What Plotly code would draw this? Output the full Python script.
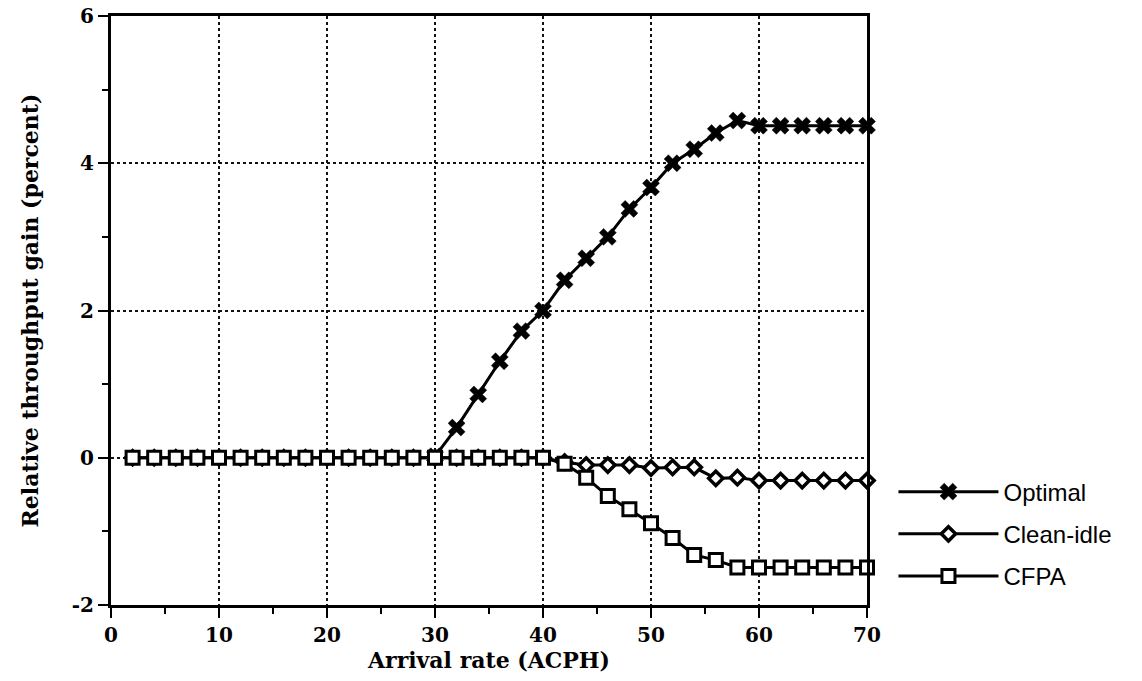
import plotly.graph_objects as go

# ---- data ----
x_all = list(range(2, 72, 2))            # arrival rate 2..70
x_opt = list(range(30, 72, 2))           # optimal curve 30..70

optimal = [0.02, 0.41, 0.86, 1.31, 1.72, 2.00, 2.41, 2.71, 3.00, 3.38,
           3.67, 4.00, 4.19, 4.41, 4.58, 4.51, 4.51, 4.51, 4.51, 4.51, 4.51]

clean_idle = [0.0] * 20 + [-0.06, -0.10, -0.10, -0.10, -0.14, -0.13, -0.13,
                           -0.28, -0.27, -0.31, -0.31, -0.31, -0.31, -0.31, -0.31]

cfpa = [0.0] * 20 + [-0.08, -0.27, -0.52, -0.70, -0.89, -1.09, -1.32,
                     -1.39, -1.49, -1.49, -1.49, -1.49, -1.49, -1.49, -1.49]

x_ticks = [0, 10, 20, 30, 40, 50, 60, 70]
y_ticks = [-2, 0, 2, 4, 6]

serif = "DejaVu Serif"
sans = "Liberation Sans"

fig = go.Figure()

fig.add_trace(go.Scatter(
    x=x_all, y=clean_idle, name="Clean-idle", mode="lines+markers",
    line=dict(color="black", width=3),
    marker=dict(symbol="diamond", size=11, color="white",
                line=dict(color="black", width=3.5)),
    legendrank=2, legendgroup="b", cliponaxis=False))

fig.add_trace(go.Scatter(
    x=x_opt, y=optimal, name="Optimal", mode="lines+markers",
    line=dict(color="black", width=3),
    marker=dict(symbol="x", size=15, color="black",
                line=dict(color="black", width=0.5)),
    legendrank=1, legendgroup="a", cliponaxis=False))

fig.add_trace(go.Scatter(
    x=x_all, y=cfpa, name="CFPA", mode="lines+markers",
    line=dict(color="black", width=3),
    marker=dict(symbol="square", size=13, color="white",
                line=dict(color="black", width=3)),
    legendrank=3, legendgroup="c", cliponaxis=False))

axis_common = dict(
    showline=True, linewidth=3, linecolor="black", mirror=True,
    ticks="outside", ticklen=10, tickwidth=2, tickcolor="black",
    showgrid=True, gridcolor="#111111", gridwidth=1.5, griddash="dot",
    zeroline=False, automargin=False,
    tickfont=dict(family=serif, size=20, color="black", weight="bold"),
)

fig.update_xaxes(
    range=[0, 70], tickmode="array", tickvals=x_ticks,
    ticktext=[str(v) for v in x_ticks],
    minor=dict(ticks="outside", ticklen=6, tickwidth=2, tickcolor="black",
               dtick=5, tick0=0, showgrid=False),
    title=dict(text="Arrival rate (ACPH)", standoff=2,
               font=dict(family=serif, size=22, color="black", weight="bold")),
    **axis_common)

fig.update_yaxes(
    range=[-2, 6], tickmode="array", tickvals=y_ticks,
    ticktext=[str(v) for v in y_ticks],
    minor=dict(ticks="outside", ticklen=6, tickwidth=2, tickcolor="black",
               dtick=1, tick0=0, showgrid=False),
    title=dict(text="Relative throughput gain (percent)", standoff=28,
               font=dict(family=serif, size=22, color="black", weight="bold")),
    **axis_common)

fig.update_layout(
    width=1142, height=681,
    margin=dict(l=111, r=275, t=16, b=76),
    plot_bgcolor="white", paper_bgcolor="white",
    showlegend=True,
    legend=dict(x=1.035, xanchor="left", y=0.23, yanchor="top",
                itemwidth=100, tracegroupgap=8,
                font=dict(family=sans, size=24, color="black"),
                bgcolor="rgba(0,0,0,0)"),
)

fig.write_html("out.html")
